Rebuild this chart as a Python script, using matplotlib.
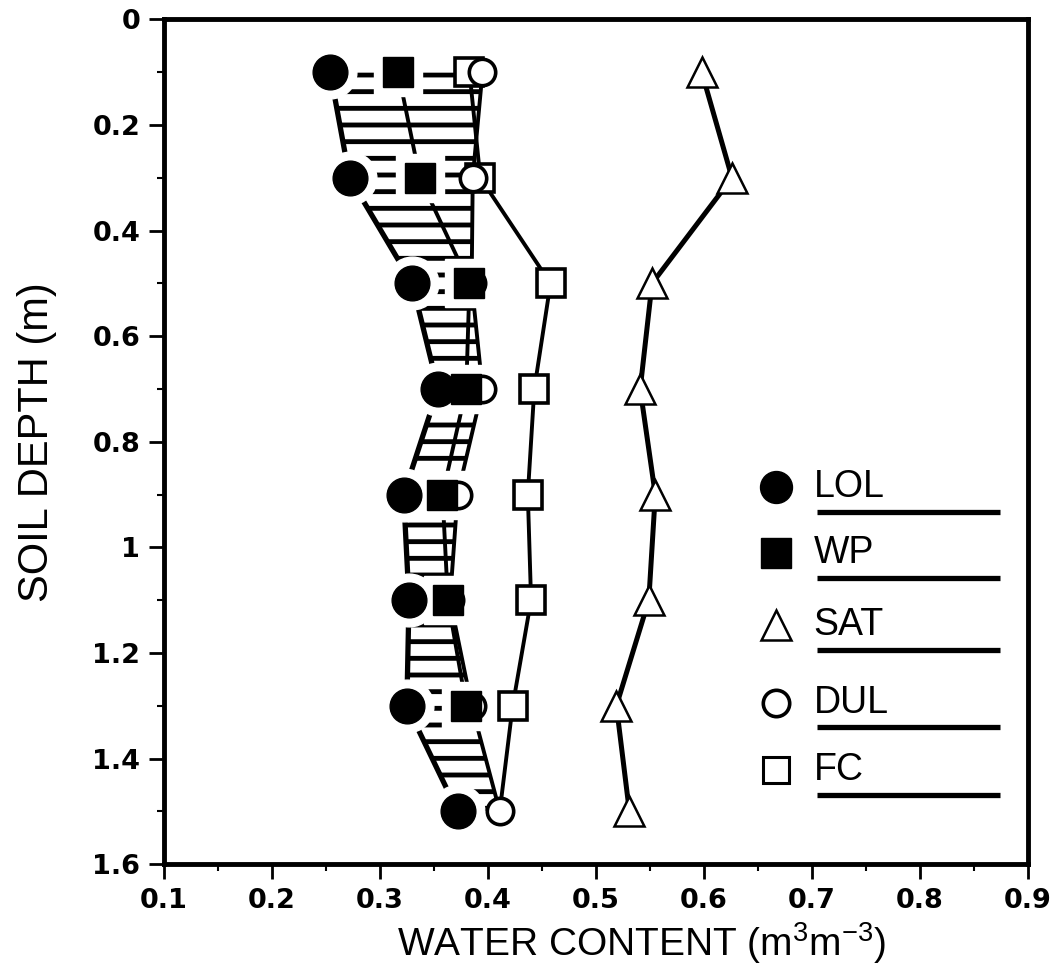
import numpy as np
import matplotlib
matplotlib.use("Agg")
import matplotlib.pyplot as plt
from matplotlib.ticker import MultipleLocator, FuncFormatter

# values
depth = [0.1, 0.3, 0.5, 0.7, 0.9, 1.1, 1.3, 1.5]
lol = [0.254, 0.272, 0.330, 0.354, 0.322, 0.327, 0.325, 0.372]
wp = [0.317, 0.337, 0.383, 0.380, 0.358, 0.363, 0.380, np.nan]
sat = [0.598, 0.626, 0.552, 0.541, 0.555, 0.549, 0.519, 0.531]
dul = [0.395, 0.386, 0.385, 0.395, 0.372, 0.365, 0.385, 0.411]
fc_depth = [0.1, 0.3, 0.5, 0.7, 0.9, 1.1, 1.3]
fc = [0.383, 0.393, 0.458, 0.443, 0.437, 0.440, 0.423]

legend_labels = ["LOL", "WP", "SAT", "DUL", "FC"]

plt.rcParams["font.family"] = ["Liberation Sans", "DejaVu Sans"]
plt.rcParams["mathtext.fontset"] = "custom"
plt.rcParams["mathtext.rm"] = "Liberation Sans"
plt.rcParams["hatch.linewidth"] = 3.5

fig = plt.figure(figsize=(10.5, 9.72), dpi=100)
ax = fig.add_axes([0.156, 0.111, 0.823, 0.869])

# hatched band between lower limit and drained upper limit
ax.fill_betweenx(depth, lol, dul, facecolor="none", edgecolor="black",
                 hatch="-", linewidth=0, zorder=1)

ax.plot(lol, depth, color="black", lw=3.8, zorder=2)
ax.plot(wp, depth, color="black", lw=2.8, zorder=2)
ax.plot(dul, depth, color="black", lw=2.8, zorder=2)
ax.plot(fc + [dul[-1]], fc_depth + [depth[-1]], color="black", lw=2.8, zorder=2)
ax.plot(sat, depth, color="black", lw=3.6, zorder=2)

# white halos around the filled markers
ax.plot(lol, depth, ls="none", marker="o", ms=38, color="white", zorder=3)
ax.plot(wp, depth, ls="none", marker="s", ms=34, color="white", zorder=3)

ax.plot(fc, fc_depth, ls="none", marker="s", ms=20, mfc="white", mec="black", mew=2.6, zorder=4)
ax.plot(dul, depth, ls="none", marker="o", ms=19, mfc="white", mec="black", mew=2.6, zorder=4)
ax.plot(lol, depth, ls="none", marker="o", ms=25, color="black", zorder=5)
ax.plot(wp, depth, ls="none", marker="s", ms=22, color="black", zorder=5)
ax.plot(sat, depth, ls="none", marker="^", ms=21, mfc="white", mec="black", mew=1.8, zorder=5)

# legend drawn by hand: marker, label, underline
leg_styles = [
    dict(marker="o", ms=23, mfc="black", mec="black"),
    dict(marker="s", ms=21, mfc="black", mec="black"),
    dict(marker="^", ms=22, mfc="white", mec="black", mew=1.8),
    dict(marker="o", ms=19, mfc="white", mec="black", mew=2.6),
    dict(marker="s", ms=19, mfc="white", mec="black", mew=2.2),
]
leg_y = [0.446, 0.368, 0.283, 0.191, 0.111]
for label, style, y in zip(legend_labels, leg_styles, leg_y):
    ax.plot([0.709], [y], ls="none", transform=ax.transAxes, clip_on=False, zorder=6, **style)
    ax.text(0.752, y, label, transform=ax.transAxes, fontsize=27,
            va="center", ha="left", zorder=6)
    ax.plot([0.756, 0.968], [y - 0.029, y - 0.029], color="black", lw=3.8,
            transform=ax.transAxes, solid_capstyle="butt", zorder=6)

ax.set_xlim(0.1, 0.9)
ax.set_ylim(1.6, 0)
ax.xaxis.set_major_locator(MultipleLocator(0.1))
ax.xaxis.set_minor_locator(MultipleLocator(0.05))
ax.yaxis.set_major_locator(MultipleLocator(0.2))
ax.yaxis.set_minor_locator(MultipleLocator(0.1))
ax.yaxis.set_major_formatter(FuncFormatter(lambda v, p: "%g" % round(v, 2)))
ax.xaxis.set_major_formatter(FuncFormatter(lambda v, p: "%g" % round(v, 2)))

ax.tick_params(which="major", direction="out", length=11, width=2, labelsize=19.5, pad=6)
ax.tick_params(which="minor", direction="out", length=5, width=1.5)
for lab in ax.get_xticklabels() + ax.get_yticklabels():
    lab.set_fontweight("bold")
    lab.set_family("DejaVu Sans")

for side in ["left", "right", "top", "bottom"]:
    ax.spines[side].set_linewidth(3.5)

ax.set_xlabel("WATER CONTENT (m$^3$m$^{-3}$)", fontsize=28)
ax.set_ylabel("SOIL DEPTH (m)", fontsize=30)
ax.xaxis.set_label_coords(0.553, -0.066)
ax.yaxis.set_label_coords(-0.124, 0.5)

fig.savefig("out.png", dpi=100)
